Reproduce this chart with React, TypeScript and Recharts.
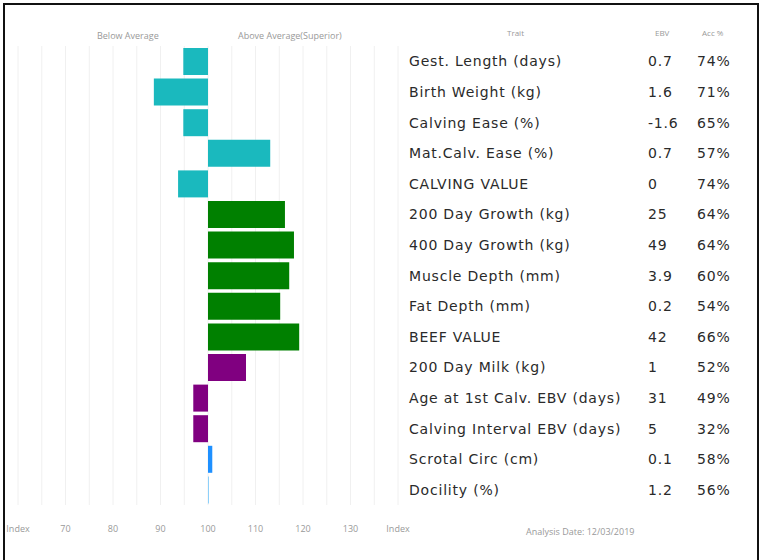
import { BarChart, Bar, XAxis, YAxis, CartesianGrid, Cell } from "recharts";

const traits = [
  "Gest. Length (days)",
  "Birth Weight (kg)",
  "Calving Ease (%)",
  "Mat.Calv. Ease (%)",
  "CALVING VALUE",
  "200 Day Growth (kg)",
  "400 Day Growth (kg)",
  "Muscle Depth (mm)",
  "Fat Depth (mm)",
  "BEEF VALUE",
  "200 Day Milk (kg)",
  "Age at 1st Calv. EBV (days)",
  "Calving Interval EBV (days)",
  "Scrotal Circ (cm)",
  "Docility (%)",
];
const ebvs = ["0.7", "1.6", "-1.6", "0.7", "0", "25", "49", "3.9", "0.2", "42", "1", "31", "5", "0.1", "1.2"];
const accs = ["74%", "71%", "65%", "57%", "74%", "64%", "64%", "60%", "54%", "66%", "52%", "49%", "32%", "58%", "56%"];
const indexes = [94.8, 88.6, 94.8, 113.1, 93.7, 116.2, 118.1, 117.1, 115.2, 119.2, 108, 96.9, 96.9, 100.9, 100.2];
const groups = [
  "calving", "calving", "calving", "calving", "calving",
  "growth", "growth", "growth", "growth", "growth",
  "maternal", "maternal", "maternal",
  "scrotal", "docility",
];
const indexTicks = [60, 65, 70, 75, 80, 85, 90, 95, 100, 105, 110, 115, 120, 125, 130, 135, 140];
const labelledTicks: Record<number, string> = {
  60: "Index", 70: "70", 80: "80", 90: "90", 100: "100", 110: "110", 120: "120", 130: "130", 140: "Index",
};
const AVERAGE = 100;

const groupColors: Record<string, string> = {
  calving: "#1ab9be",
  growth: "#008000",
  maternal: "#800080",
  scrotal: "#1e90ff",
  docility: "#87cefa",
};

const FONT = "'Open Sans', sans-serif";
const TABLE_FONT = "'DejaVu Sans', sans-serif";

const rows = traits.map((trait, i) => ({
  trait,
  ebv: ebvs[i],
  acc: accs[i],
  dev: indexes[i] - AVERAGE,
  group: groups[i],
}));

function TableTick(props: any) {
  const { y, payload } = props;
  const r = rows[payload.index];
  if (!r) return null;
  const common = {
    y,
    dominantBaseline: "central" as const,
    fontSize: 14,
    letterSpacing: 0.8,
    fill: "#2a2a2a",
    fontFamily: TABLE_FONT,
  };
  return (
    <g>
      <text x={409} {...common}>{r.trait}</text>
      <text x={648} {...common}>{r.ebv}</text>
      <text x={697} {...common}>{r.acc}</text>
    </g>
  );
}

const small = { position: "absolute" as const, fontSize: 9, color: "#999", fontFamily: FONT, whiteSpace: "nowrap" as const };

export default function App() {
  return (
    <div style={{ position: "fixed", left: 0, top: 0, width: 760, height: 560, background: "#fff" }}>
      <div
        style={{
          position: "absolute", left: 3, top: 3, width: 752, height: 560,
          borderLeft: "2px solid #111", borderTop: "2px solid #111", borderRight: "2px solid #111",
        }}
      />
      <BarChart
        width={760}
        height={560}
        data={rows}
        layout="vertical"
        margin={{ top: 46, right: 0, left: 18, bottom: 0 }}
        barSize={27}
      >
        <CartesianGrid horizontal={false} stroke="#f0f0f0" />
        <XAxis
          type="number"
          domain={[60 - AVERAGE, 140 - AVERAGE]}
          ticks={indexTicks.map((t) => t - AVERAGE)}
          tickFormatter={(v: number) => labelledTicks[v + AVERAGE] ?? ""}
          axisLine={false}
          tickLine={false}
          tickMargin={15}
          height={55}
          interval={0}
          tick={{ fontSize: 9, fill: "#999", fontFamily: FONT }}
        />
        <YAxis
          type="category"
          dataKey="trait"
          orientation="right"
          width={362}
          axisLine={false}
          tickLine={false}
          interval={0}
          tick={<TableTick />}
        />
        <Bar dataKey="dev" isAnimationActive={false}>
          {rows.map((r, i) => (
            <Cell key={`c-${i}`} fill={groupColors[r.group]} />
          ))}
        </Bar>
      </BarChart>
      <div style={{ ...small, left: 97, top: 29 }}>Below Average</div>
      <div style={{ ...small, left: 238, top: 29 }}>Above Average(Superior)</div>
      <div style={{ ...small, left: 507, top: 27, fontSize: 8 }}>Trait</div>
      <div style={{ ...small, left: 655, top: 27, fontSize: 8 }}>EBV</div>
      <div style={{ ...small, left: 702, top: 27, fontSize: 8 }}>Acc %</div>
      <div style={{ ...small, left: 526, top: 525 }}>Analysis Date: 12/03/2019</div>
    </div>
  );
}
